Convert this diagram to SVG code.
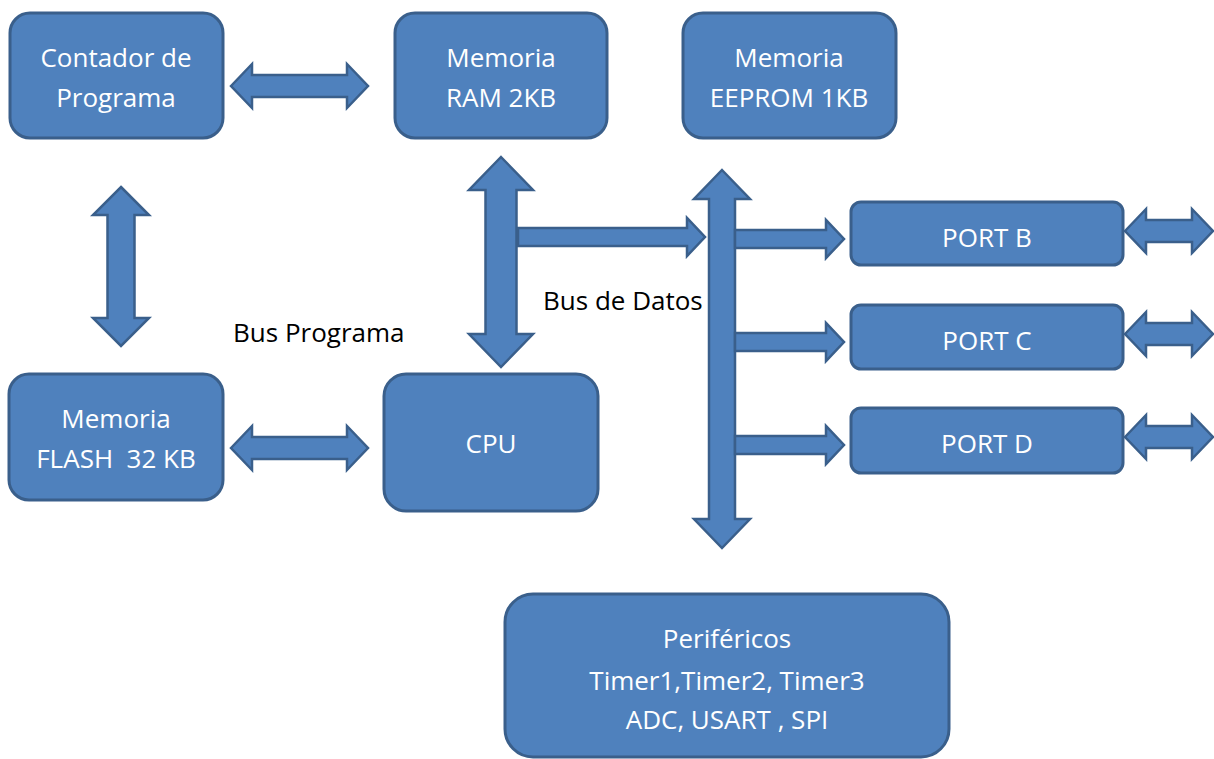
<svg xmlns="http://www.w3.org/2000/svg" width="1214" height="759" viewBox="0 0 1214 759">
<style>
.box{fill:#4F81BD;stroke:#3A5F8B;stroke-width:3}
.arr{fill:#4F81BD;stroke:#3A5F8B;stroke-width:2.5;stroke-linejoin:miter}
.t{font-family:"Open Sans","Liberation Sans",sans-serif;font-size:26px;fill:#FFFFFF;text-anchor:middle}
.lbl{font-family:"Open Sans","Liberation Sans",sans-serif;font-size:26px;fill:#000000}
</style>
<rect width="1214" height="759" fill="#FFFFFF"/>
<g id="connectors">
<path class="arr" d="M231,86 L252,64 L252,75 L347,75 L347,64 L368,86 L347,108 L347,97 L252,97 L252,108 Z"/>
<path class="arr" d="M231,448 L252,426 L252,437 L347,437 L347,426 L368,448 L347,470 L347,459 L252,459 L252,470 Z"/>
<path class="arr" d="M121,187 L149,215 L134.5,215 L134.5,318 L149,318 L121,346 L93,318 L107.5,318 L107.5,215 L93,215 Z"/>
<path class="arr" d="M501,157 L533,190 L516.5,190 L516.5,334 L533,334 L501,367 L469,334 L485.5,334 L485.5,190 L469,190 Z"/>
<path class="arr" d="M518,228 L687,228 L687,218 L705,237 L687,256 L687,246 L518,246 Z"/>
<path class="arr" d="M722,170 L750,199 L735,199 L735,519 L750,519 L722,548 L694,519 L709,519 L709,199 L694,199 Z"/>
<path class="arr" d="M735,230 L826,230 L826,220 L844,239 L826,258 L826,248 L735,248 Z"/>
<path class="arr" d="M735,333 L826,333 L826,323 L844,342 L826,361 L826,351 L735,351 Z"/>
<path class="arr" d="M735,436 L826,436 L826,426 L844,445 L826,464 L826,454 L735,454 Z"/>
<path class="arr" d="M1125,231 L1146,209 L1146,220 L1192,220 L1192,209 L1213,231 L1192,253 L1192,242 L1146,242 L1146,253 Z"/>
<path class="arr" d="M1125,334 L1146,312 L1146,323 L1192,323 L1192,312 L1213,334 L1192,356 L1192,345 L1146,345 L1146,356 Z"/>
<path class="arr" d="M1125,437 L1146,415 L1146,426 L1192,426 L1192,415 L1213,437 L1192,459 L1192,448 L1146,448 L1146,459 Z"/>
</g>
<g id="contador">
<rect class="box" x="10" y="13" width="213" height="125" rx="20"/>
<text class="t" x="116" y="67">Contador de</text>
<text class="t" x="116" y="107">Programa</text>
</g>
<g id="ram">
<rect class="box" x="395" y="13" width="212" height="125" rx="20"/>
<text class="t" x="501" y="67">Memoria</text>
<text class="t" x="501" y="107">RAM 2KB</text>
</g>
<g id="eeprom">
<rect class="box" x="683" y="13" width="213" height="125" rx="20"/>
<text class="t" x="789" y="67">Memoria</text>
<text class="t" x="789" y="107">EEPROM 1KB</text>
</g>
<g id="flash">
<rect class="box" x="9" y="374" width="214" height="126" rx="20"/>
<text class="t" x="116" y="428">Memoria</text>
<text class="t" x="116" y="468" xml:space="preserve">FLASH  32 KB</text>
</g>
<g id="cpu">
<rect class="box" x="384" y="374" width="214" height="137" rx="22"/>
<text class="t" x="491" y="453">CPU</text>
</g>
<g id="portb">
<rect class="box" x="851" y="202" width="272" height="63" rx="10"/>
<text class="t" x="987" y="247">PORT B</text>
</g>
<g id="portc">
<rect class="box" x="851" y="305" width="272" height="64" rx="10"/>
<text class="t" x="987" y="350">PORT C</text>
</g>
<g id="portd">
<rect class="box" x="851" y="408" width="272" height="65" rx="10"/>
<text class="t" x="987" y="453">PORT D</text>
</g>
<g id="perifericos">
<rect class="box" x="505" y="594" width="444" height="163" rx="28"/>
<text class="t" x="727" y="648">Periféricos</text>
<text class="t" x="727" y="690">Timer1,Timer2, Timer3</text>
<text class="t" x="727" y="729">ADC, USART , SPI</text>
</g>
<g id="labels">
<text class="lbl" x="233" y="342">Bus Programa</text>
<text class="lbl" x="543" y="310">Bus de Datos</text>
</g>
</svg>
